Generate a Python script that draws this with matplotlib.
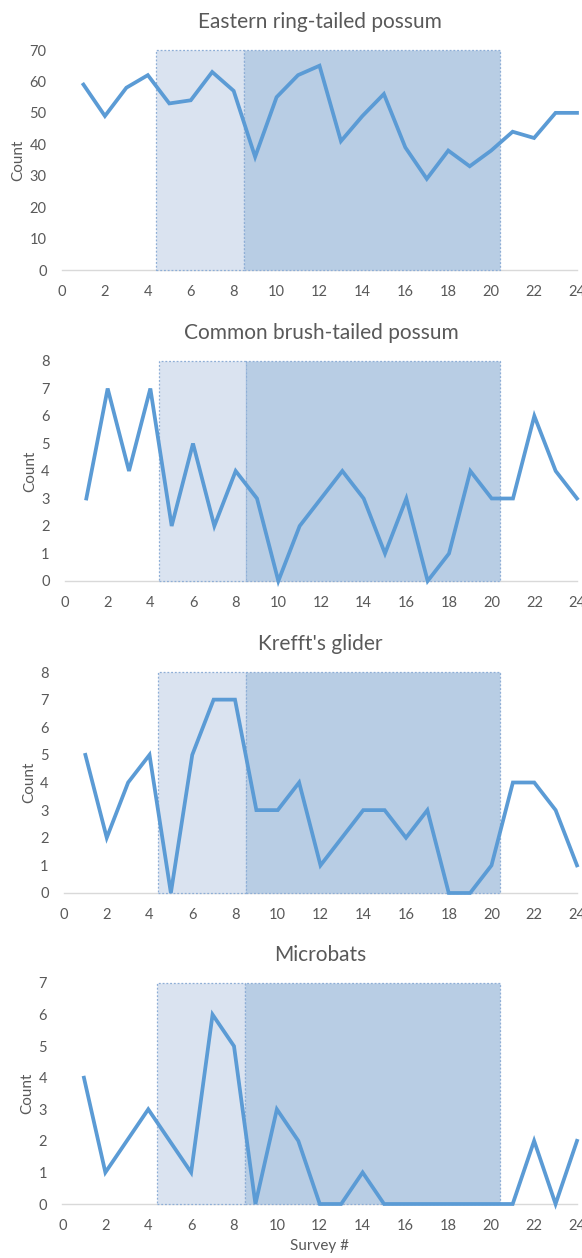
import matplotlib.pyplot as plt
from matplotlib.patches import Rectangle

survey = list(range(1, 25))

ring_tailed = [59, 49, 58, 62, 53, 54, 63, 57, 36, 55, 62, 65,
               41, 49, 56, 39, 29, 38, 33, 38, 44, 42, 50, 50]
brush_tailed = [3, 7, 4, 7, 2, 5, 2, 4, 3, 0, 2, 3,
                4, 3, 1, 3, 0, 1, 4, 3, 3, 6, 4, 3]
glider = [5, 2, 4, 5, 0, 5, 7, 7, 3, 3, 4, 1,
          2, 3, 3, 2, 3, 0, 0, 1, 4, 4, 3, 1]
microbats = [4, 1, 2, 3, 2, 1, 6, 5, 0, 3, 2, 0,
             0, 1, 0, 0, 0, 0, 0, 0, 0, 2, 0, 2]

titles = ["Eastern ring-tailed possum", "Common brush-tailed possum",
          "Krefft's glider", "Microbats"]
series = [ring_tailed, brush_tailed, glider, microbats]
y_max = [70, 8, 8, 7]
y_step = [10, 1, 1, 1]

# survey periods shaded behind the counts
period_a = (4.4, 8.5)
period_b = (8.5, 20.4)

line_col = "#5b9bd5"
text_col = "#595959"

plt.rcParams["font.family"] = ["Lato", "DejaVu Sans"]

fig = plt.figure(figsize=(5.82, 12.58), dpi=100)
H = 1258.0
W = 582.0
# pixel boxes: (left, top, bottom) of each plot area
boxes = [(62, 50, 270), (65, 361, 581), (64, 672, 893), (62.5, 983, 1204)]
right = 577
count_x = [25, 37, 36, 34]

for (left, top, bottom), title, vals, ym, st, cx in zip(boxes, titles, series, y_max, y_step, count_x):
    ax = fig.add_axes([left / W, 1 - bottom / H, (right - left) / W, (bottom - top) / H])
    ax.add_patch(Rectangle((period_a[0], 0), period_a[1] - period_a[0], ym,
                           facecolor="#dae3f0", edgecolor="#8eaed6", lw=0.9,
                           linestyle=(0, (1.5, 1.5)), zorder=1, clip_on=False))
    ax.add_patch(Rectangle((period_b[0], 0), period_b[1] - period_b[0], ym,
                           facecolor="#b8cde4", edgecolor="#8eaed6", lw=0.9,
                           linestyle=(0, (1.5, 1.5)), zorder=1, clip_on=False))
    ax.plot(survey, vals, color=line_col, lw=2.7, zorder=3, clip_on=False,
            solid_joinstyle="miter")
    ax.set_xlim(0, 24)
    ax.set_ylim(0, ym)
    ax.set_xticks(range(0, 25, 2))
    ax.set_yticks(range(0, ym + 1, st))
    for s in ["top", "right", "left"]:
        ax.spines[s].set_visible(False)
    ax.spines["bottom"].set_color("#d9d9d9")
    ax.spines["bottom"].set_linewidth(1.0)
    ax.spines["bottom"].set_zorder(0.5)
    ax.tick_params(length=0, labelsize=10.5, colors=text_col)
    ax.tick_params(axis="x", pad=11)
    ax.tick_params(axis="y", pad=11)
    ax.set_ylabel("Count", fontsize=11, color=text_col)
    ax.yaxis.set_label_coords((cx - left) / (right - left), 0.5)
    ax.set_title(title, fontsize=15, color=text_col, pad=16)
    ax.set_facecolor("none")

ax.set_xlabel("Survey #", fontsize=11, color=text_col, labelpad=4)

fig.savefig("out.png", dpi=100)
